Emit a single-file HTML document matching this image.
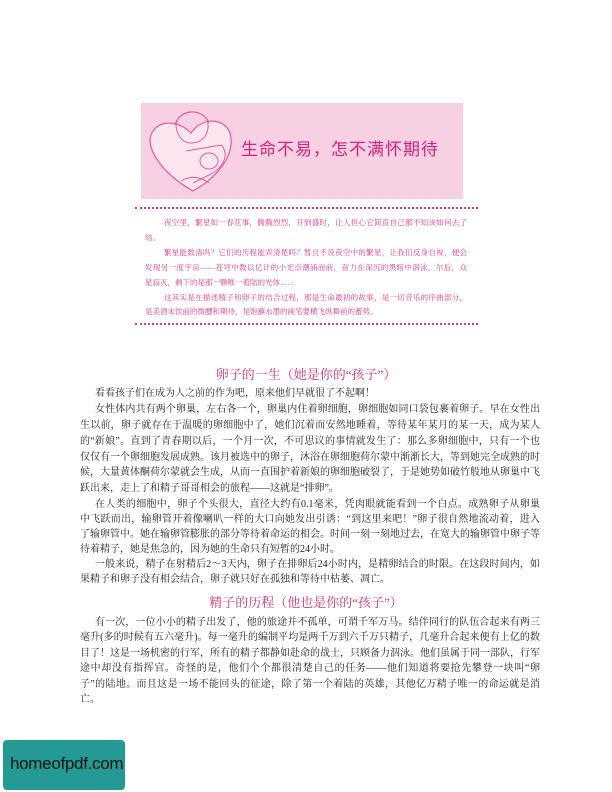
<!DOCTYPE html>
<html><head><meta charset="utf-8"><style>
body{margin:0;width:612px;height:792px;background:#fff;position:relative;overflow:hidden;font-family:"Liberation Serif","Noto Serif CJK SC","Noto Sans CJK SC",serif;}
.l{position:absolute;white-space:nowrap;text-align:justify;text-align-last:justify;}
.b{left:80px;width:460px;font-size:10px;line-height:16px;color:#222;}
.i{left:145px;width:322px;font-size:7.5px;line-height:12px;color:#d6338a;}
.h{position:absolute;left:0;width:612px;text-align:center;font-size:13px;color:#d0307f;line-height:16px;}
.dot{position:absolute;left:135px;width:343px;height:0;border-top:2px dotted #e0378d;}
</style></head><body>
<div style="position:absolute;left:141px;top:103px;width:322px;height:96px;background:#f7d0e3;">
<svg width="100" height="96" style="position:absolute;left:0;top:0">
<path d="M52 88 C20 70 5 45 10 32 C15 18 35 15 50 30 C62 12 88 15 90 35 C92 55 75 75 52 88Z" fill="#fbe6f0" stroke="#e25a9f" stroke-width="1.2"/>
<path d="M36 28 C30 10 55 2 66 16 C70 30 62 40 50 40 C42 40 38 34 36 28Z" fill="none" stroke="#e25a9f"/>
<path d="M34 22 C38 6 62 4 68 20" fill="none" stroke="#e25a9f"/>
<path d="M45 48 L80 42 C88 50 84 62 72 70 L52 80" fill="none" stroke="#e25a9f"/>
<ellipse cx="68" cy="58" rx="9" ry="8" fill="none" stroke="#e25a9f"/>
<path d="M40 78 C50 72 60 74 68 80" fill="none" stroke="#e25a9f"/>
</svg>
<div style="position:absolute;left:100px;top:32px;font-size:17px;color:#d2237f;font-family:'Liberation Sans','Noto Sans CJK SC',sans-serif;letter-spacing:1px">生命不易，怎不满怀期待</div>
</div>
<div class="dot" style="top:207px"></div>
<div class="dot" style="top:323px"></div>
<div>
<div class="l i" style="top:217px;left:164px;width:303px">夜空里，繁星如一春花事，腾腾烈烈，开到盛时，让人担心它简直自己都不知该如何去了</div>
<div class="l i" style="top:232px;text-align-last:left">结。</div>
<div class="l i" style="top:247px;left:164px;width:303px">繁星能数清吗？它们的历程能弄清楚吗？暂且不说夜空中的繁星，让我们反身自视，便会</div>
<div class="l i" style="top:262px">发现另一度宇宙——苍穹中数以亿计的小光点潮涌而前，奋力在深沉的黑暗中泅泳。尔后，众</div>
<div class="l i" style="top:277px;text-align-last:left">星寂灭，剩下的是那一颗唯一着陆的光体……</div>
<div class="l i" style="top:292px;left:164px;width:303px">这其实是在描述精子和卵子的结合过程，那是生命最初的故事，是一切音乐的序曲部分，</div>
<div class="l i" style="top:306px;text-align-last:left">是美酒未饮前的微醺和期待，是饱蘸水墨的画笔要横飞纵舞前的蓄势。</div>
</div>
<div class="h" style="top:367px">卵子的一生（她是你的“孩子”）</div>
<div>
<div class="l b" style="top:386px;left:95px;width:445px;text-align-last:left">看看孩子们在成为人之前的作为吧，原来他们早就很了不起啊！</div>
<div class="l b" style="top:402px;left:95px;width:445px">女性体内共有两个卵巢，左右各一个，卵巢内住着卵细胞，卵细胞如同口袋包裹着卵子。早在女性出</div>
<div class="l b" style="top:418px">生以前，卵子就存在于温暖的卵细胞中了，她们沉着而安然地睡着，等待某年某月的某一天，成为某人</div>
<div class="l b" style="top:434px">的“新娘”。直到了青春期以后，一个月一次，不可思议的事情就发生了：那么多卵细胞中，只有一个也</div>
<div class="l b" style="top:450px">仅仅有一个卵细胞发展成熟。该月被选中的卵子，沐浴在卵细胞荷尔蒙中渐渐长大，等到她完全成熟的时</div>
<div class="l b" style="top:465px">候，大量黄体酮荷尔蒙就会生成，从而一直围护着新娘的卵细胞破裂了，于是她势如破竹般地从卵巢中飞</div>
<div class="l b" style="top:481px;text-align-last:left">跃出来，走上了和精子哥哥相会的旅程——这就是“排卵”。</div>
<div class="l b" style="top:497px;left:95px;width:445px">在人类的细胞中，卵子个头很大，直径大约有0.1毫米，凭肉眼就能看到一个白点。成熟卵子从卵巢</div>
<div class="l b" style="top:512px">中飞跃而出，输卵管开着像喇叭一样的大口向她发出引诱：“到这里来吧！”卵子很自然地流动着，进入</div>
<div class="l b" style="top:527px">了输卵管中。她在输卵管膨胀的部分等待着命运的相会。时间一刻一刻地过去，在宽大的输卵管中卵子等</div>
<div class="l b" style="top:542px;text-align-last:left">待着精子，她是焦急的，因为她的生命只有短暂的24小时。</div>
<div class="l b" style="top:557px;left:95px;width:445px">一般来说，精子在射精后2～3天内，卵子在排卵后24小时内，是精卵结合的时限。在这段时间内，如</div>
<div class="l b" style="top:572px;text-align-last:left">果精子和卵子没有相会结合，卵子就只好在孤独和等待中枯萎、凋亡。</div>
</div>
<div class="h" style="top:595px">精子的历程（他也是你的“孩子”）</div>
<div>
<div class="l b" style="top:615px;left:95px;width:445px">有一次，一位小小的精子出发了，他的旅途并不孤单，可谓千军万马。结伴同行的队伍合起来有两三</div>
<div class="l b" style="top:630px">毫升(多的时候有五六毫升)。每一毫升的编制平均是两千万到六千万只精子，几毫升合起来便有上亿的数</div>
<div class="l b" style="top:646px">目了！这是一场机密的行军，所有的精子都静如赴命的战士，只顾备力泅泳。他们虽属于同一部队，行军</div>
<div class="l b" style="top:661px">途中却没有指挥官。奇怪的是，他们个个都很清楚自己的任务——他们知道将要抢先攀登一块叫“卵</div>
<div class="l b" style="top:677px">子”的陆地。而且这是一场不能回头的征途，除了第一个着陆的英雄，其他亿万精子唯一的命运就是消</div>
<div class="l b" style="top:692px;text-align-last:left">亡。</div>
</div>
<div style="position:absolute;left:3px;top:740px;width:122px;height:50px;background:#239a93;border-radius:4px;">
<div style="position:absolute;left:7px;top:14px;font-family:'Liberation Sans',sans-serif;font-size:17px;color:#111;letter-spacing:-0.3px">homeofpdf.com</div>
</div>
</body></html>
